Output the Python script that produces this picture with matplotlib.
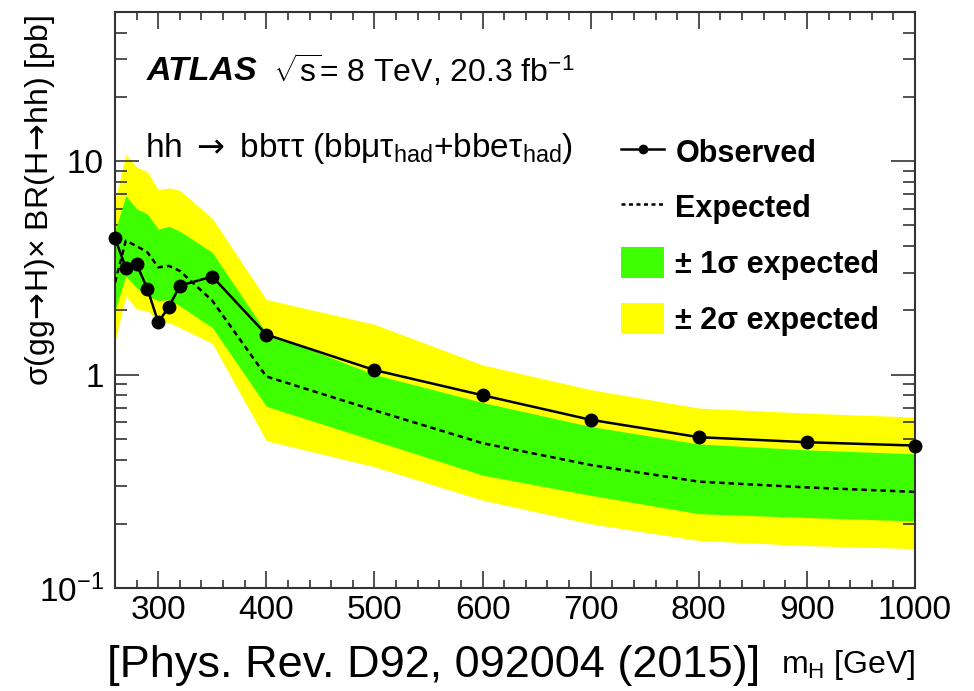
import matplotlib
matplotlib.use('Agg')
import matplotlib.pyplot as plt
from matplotlib.lines import Line2D
from matplotlib.patches import Patch
from matplotlib.ticker import FixedLocator, FixedFormatter, NullFormatter

# values (m_H in GeV, limits in pb)
mass = [260, 270, 280, 290, 300, 310, 320, 350, 400, 500, 600, 700, 800, 900, 1000]
observed = [4.35, 3.17, 3.29, 2.52, 1.76, 2.08, 2.61, 2.88, 1.54, 1.05, 0.80, 0.614, 0.509, 0.482, 0.465]
expected = [2.70, 4.24, 4.00, 3.74, 3.18, 3.23, 3.06, 2.22, 0.98, 0.68, 0.477, 0.377, 0.315, 0.296, 0.282]
band1_lo = [2.00, 2.90, 2.55, 2.34, 2.22, 2.25, 2.10, 1.66, 0.71, 0.49, 0.338, 0.272, 0.223, 0.214, 0.206]
band1_hi = [4.70, 6.90, 5.98, 5.66, 4.80, 4.95, 4.70, 3.74, 1.57, 1.00, 0.74, 0.571, 0.473, 0.444, 0.425]
band2_lo = [1.43, 2.34, 2.02, 1.99, 1.78, 1.75, 1.66, 1.40, 0.49, 0.37, 0.258, 0.200, 0.167, 0.158, 0.153]
band2_hi = [6.60, 10.7, 9.40, 8.90, 7.35, 7.50, 7.30, 5.40, 2.25, 1.72, 1.11, 0.85, 0.697, 0.660, 0.632]

x_ticks = [300, 400, 500, 600, 700, 800, 900, 1000]
y_ticks = [0.1, 1, 10]
y_ticklabels = [r'10$^{-1}$', '1', '10']

matplotlib.rcParams.update({
    'font.family': ['Liberation Sans', 'DejaVu Sans'],
    'mathtext.fontset': 'custom',
    'mathtext.rm': 'Liberation Sans',
    'mathtext.it': 'Liberation Sans:italic',
    'mathtext.bf': 'Liberation Sans:bold',
    'mathtext.sf': 'DejaVu Sans',
})

W, H = 974, 691
fig = plt.figure(figsize=(W / 100, H / 100), dpi=100)
fig.patch.set_facecolor('white')


def fx(px):
    return px / W


def fy(py):
    return 1 - py / H


ax = fig.add_axes([fx(115), fy(588), fx(915) - fx(115), fy(12) - fy(588)])

green = '#3dff00'
yellow = '#ffff00'

ax.fill_between(mass, band2_lo, band2_hi, color=yellow, linewidth=0, zorder=1)
ax.fill_between(mass, band1_lo, band1_hi, color=green, linewidth=0, zorder=2)
ax.plot(mass, expected, color='black', linewidth=1.8, linestyle=(0, (2.2, 1.6)), zorder=3)
ax.plot(mass, observed, color='black', linewidth=1.8, marker='o', markersize=9,
        zorder=4, clip_on=False)

ax.set_yscale('log')
ax.set_xlim(260, 1000)
ax.set_ylim(0.1, 50)

ax.xaxis.set_major_locator(FixedLocator(x_ticks))
ax.xaxis.set_minor_locator(FixedLocator(list(range(260, 1001, 20))))
ax.yaxis.set_major_locator(FixedLocator(y_ticks))
ax.yaxis.set_major_formatter(FixedFormatter(y_ticklabels))
minor_y = [m * d for d in (0.1, 1, 10) for m in range(2, 10) if m * d <= 50]
ax.yaxis.set_minor_locator(FixedLocator(minor_y))
ax.yaxis.set_minor_formatter(NullFormatter())

ax.tick_params(axis='both', which='both', direction='in', top=True, right=True,
               width=1.2, color='#333333')
ax.tick_params(axis='x', which='major', length=12, labelsize=24, pad=5)
ax.tick_params(axis='x', which='minor', length=6)
ax.tick_params(axis='y', which='major', length=17, labelsize=24, pad=8)
ax.tick_params(axis='y', which='minor', length=8.5)
for sp in ax.spines.values():
    sp.set_linewidth(1.5)
    sp.set_color('#333333')

# labels and annotations
fig.text(fx(40), fy(15),
         r'σ(gg$\!\mathsf{\rightarrow}\!$H)× BR(H$\!\mathsf{\rightarrow}\!$hh) [pb]',
         rotation=90, ha='center', va='top', fontsize=23)
fig.text(fx(915), fy(673), r'm$_{\mathrm{H}}$ [GeV]', ha='right', va='baseline', fontsize=23)
fig.text(fx(107), fy(677), '[Phys. Rev. D92, 092004 (2015)]', ha='left', va='baseline',
         fontsize=32.5)

fig.text(fx(147), fy(71), 'ATLAS', fontsize=24.5, fontweight='bold', style='italic',
         ha='left', va='center')
fig.text(fx(273), fy(71), r'$\sqrt{\mathrm{s}}$= 8 TeV, 20.3 fb$^{-1}$', fontsize=23,
         ha='left', va='center')
fig.text(fx(145), fy(148),
         r'hh $\mathsf{\rightarrow}$ bbττ (bbμτ$_{\mathrm{had}}$+bbeτ$_{\mathrm{had}}$)',
         fontsize=24, ha='left', va='center')

handles = [
    Line2D([], [], color='black', linewidth=1.8, marker='o', markersize=6),
    Line2D([], [], color='black', linewidth=1.8, linestyle=(0, (1.6, 1.4))),
    Patch(facecolor=green, edgecolor='none'),
    Patch(facecolor=yellow, edgecolor='none'),
]
labels = ['Observed', 'Expected', '± 1σ expected', '± 2σ expected']
fig.legend(handles, labels, loc='upper left', bbox_to_anchor=(fx(621), fy(136)),
           frameon=False, borderpad=0, borderaxespad=0, handlelength=1.42,
           handleheight=1.15, handletextpad=0.36, labelspacing=0.76,
           prop={'size': 22, 'weight': 'bold'})

fig.savefig('out.png', dpi=100, facecolor='white')
